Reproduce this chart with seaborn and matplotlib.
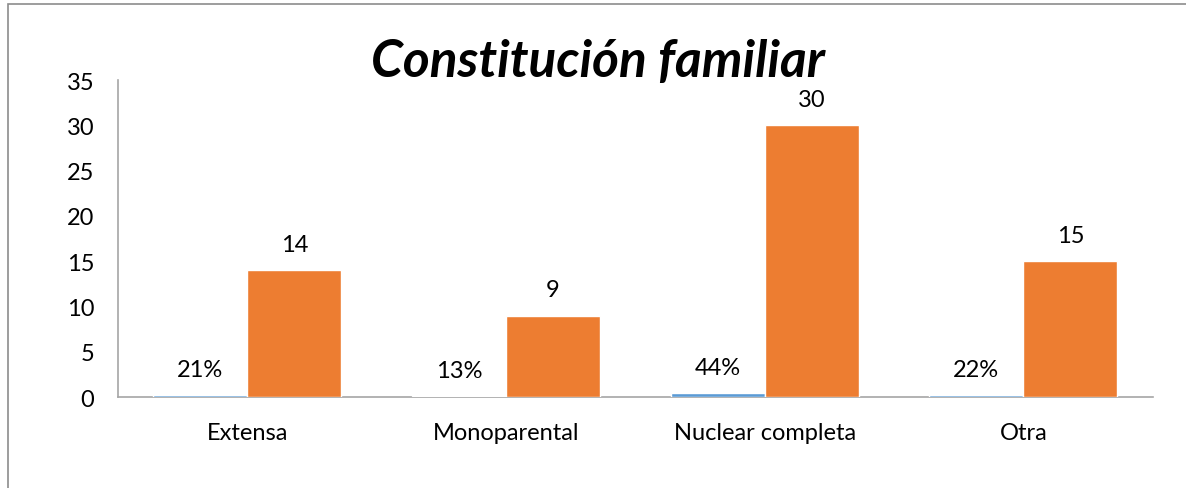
import matplotlib
matplotlib.use("Agg")
import matplotlib.pyplot as plt
import seaborn as sns
import pandas as pd
from matplotlib.patches import Rectangle

categories = ["Extensa", "Monoparental", "Nuclear completa", "Otra"]
porcentaje = [0.21, 0.13, 0.44, 0.22]
frecuencia = [14, 9, 30, 15]

df = pd.DataFrame({
    "categoria": categories * 2,
    "valor": porcentaje + frecuencia,
    "serie": ["Porcentaje"] * 4 + ["Frecuencia"] * 4,
})

sns.set_theme(style="white")
plt.rcParams["font.family"] = ["Lato", "DejaVu Sans"]
plt.rcParams["text.color"] = "black"

fig = plt.figure(figsize=(11.86, 4.89), dpi=100)
ax = fig.add_axes([0.0995, 0.186, 0.8725, 0.648])

sns.barplot(data=df, x="categoria", y="valor", hue="serie",
            palette=["#5B9BD5", "#ED7D31"], width=0.727, ax=ax,
            legend=False, saturation=1, zorder=3)

# value labels
ax.bar_label(ax.containers[0], labels=[f"{p:.0%}" for p in porcentaje],
             padding=11, fontsize=17, color="black")
ax.bar_label(ax.containers[1], labels=[str(v) for v in frecuencia],
             padding=11, fontsize=17, color="black")

ax.set_ylim(0, 35)
ax.set_yticks(range(0, 36, 5))
ax.set_xlabel("")
ax.set_ylabel("")
ax.tick_params(axis="both", length=0, labelsize=17, colors="black")
ax.tick_params(axis="x", pad=18)
ax.tick_params(axis="y", pad=17)
for s in ["top", "right"]:
    ax.spines[s].set_visible(False)
for s in ["left", "bottom"]:
    ax.spines[s].set_color("#A6A6A6")
    ax.spines[s].set_linewidth(1.2)
    ax.spines[s].set_zorder(1)

fig.text(0.504, 0.872, "Constitución familiar", ha="center", va="center",
         fontsize=37, fontweight="bold", fontstyle="italic", color="black")

# chart frame
fig.patches.append(Rectangle((0.007, -0.5), 1.5, 1.49, transform=fig.transFigure,
                             fill=False, edgecolor="#8C8C8C", linewidth=1.2))

fig.savefig("out.png", dpi=100)
